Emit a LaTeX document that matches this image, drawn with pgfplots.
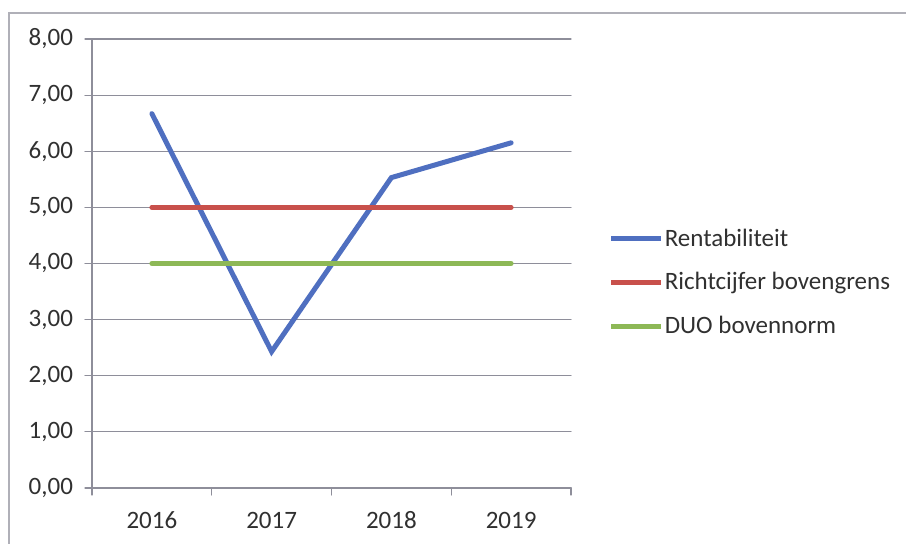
\documentclass[border=0pt]{standalone}
\usepackage{fontspec}
\setmainfont{Carlito}
\usepackage{pgfplots}
\pgfplotsset{compat=1.18}
\definecolor{cblue}{HTML}{4F6FC0}
\definecolor{cred}{HTML}{C8504B}
\definecolor{cgreen}{HTML}{8DB856}
\definecolor{cgrid}{HTML}{8E8E9A}
\definecolor{ctext}{HTML}{303030}
\begin{document}
\begin{tikzpicture}
\useasboundingbox (0,0) rectangle (453pt,272pt);
\draw[cgrid!70, line width=0.9pt] (4.5pt,0) -- (4.5pt,265.5pt) -- (453pt,265.5pt);
\begin{axis}[
 at={(46pt,28pt)}, anchor=south west,
 scale only axis, width=239.5pt, height=224.5pt,
 xmin=-0.5, xmax=3.5, ymin=0, ymax=8,
 axis lines*=left, axis line style={cgrid, line width=0.7pt},
 ytick={0,...,8}, ymajorgrids, major grid style={cgrid, line width=0.6pt},
 xtick={-0.5,0.5,1.5,2.5,3.5}, xticklabels={},
 extra x ticks={0,1,2,3}, extra x tick labels={2016,2017,2018,2019},
 extra x tick style={major tick length=0pt, grid=none, xticklabel style={yshift=-8.5pt, text height=8pt, text depth=0pt}},
 tick align=outside, major tick length=3.5pt, tick style={cgrid, line width=0.6pt},
 ticklabel style={font=\fontsize{12.5}{15}\selectfont, text=ctext},
 yticklabel style={xshift=-2.5pt, /pgf/number format/.cd, fixed, fixed zerofill, precision=2, use comma, assume math mode=true},
 legend cell align=left,
 legend style={at={(1.078,0.457)}, anchor=west, draw=none, fill=none, inner sep=0pt, row sep=9.8pt, font=\fontsize{12.5}{15}\selectfont, text=ctext, nodes={inner xsep=0.5pt, inner ysep=1pt}},
 legend image code/.code={\draw[#1, line width=2.5pt] (0pt,0pt) -- (25pt,0pt);},
 line cap=round,
]
\addplot[cblue, line width=2.5pt] coordinates {(0,6.67)(1,2.43)(2,5.53)(3,6.15)};
\addlegendentry{Rentabiliteit}
\addplot[cred, line width=2.5pt] coordinates {(0,5)(1,5)(2,5)(3,5)};
\addlegendentry{Richtcijfer bovengrens}
\addplot[cgreen, line width=2.5pt] coordinates {(0,4)(1,4)(2,4)(3,4)};
\addlegendentry{DUO bovennorm}
\end{axis}
\end{tikzpicture}
\end{document}
